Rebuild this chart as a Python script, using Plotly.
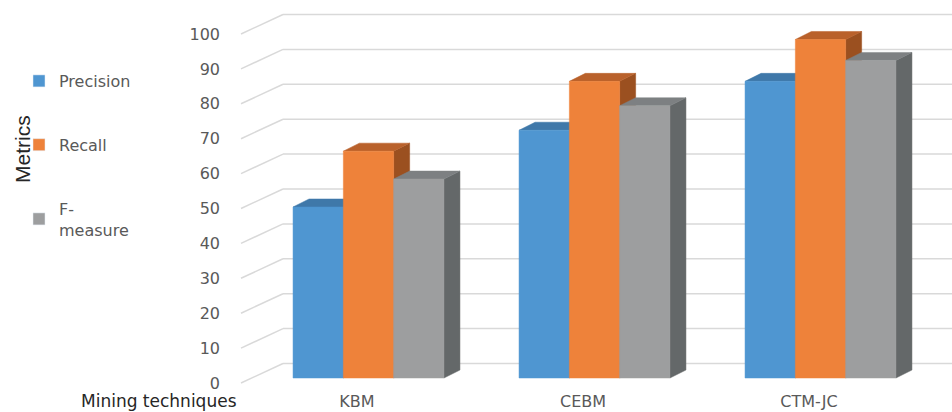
import plotly.graph_objects as go

# ---- data ----
categories = ["KBM", "CEBM", "CTM-JC"]
series_names = ["Precision", "Recall", "F-<br>measure"]
precision = [49, 71, 85]
recall = [65, 85, 97]
f_measure = [57, 78, 91]
y_ticks = [0, 10, 20, 30, 40, 50, 60, 70, 80, 90, 100]

front_colors = ["#4F96D1", "#EE823A", "#9D9E9F"]
top_colors = ["#3F78A9", "#B9612B", "#7D8082"]
side_colors = ["#3A6F9C", "#9B5020", "#646869"]

# ---- geometry (pixel-based layout constants) ----
W, H = 952, 412
Y0_PX = 383.0          # pixel of value 0 on the front plane
PX_PER_UNIT = 3.49
PLOT_BOTTOM_PX = 390
y_lo = (Y0_PX - PLOT_BOTTOM_PX) / PX_PER_UNIT
y_hi = Y0_PX / PX_PER_UNIT

GRID_X0, GRID_X1 = 241, 283
GRID_DY = 19.5 / PX_PER_UNIT
BAR_BASE = 5.0 / PX_PER_UNIT
BAR_DX = 16
BAR_DY = 8.0 / PX_PER_UNIT
CAT0, CAT_STEP = 368.5, 226
BAR_W = 50.3
LABEL_SHIFT = 11.5

fig = go.Figure()

# legend entries (square icons)
for name, col in zip(series_names, front_colors):
    fig.add_trace(go.Bar(x=[None], y=[None], name=name, marker_color=col,
                         legendgroup=name, hoverinfo="skip"))

all_vals = [precision, recall, f_measure]
for j, vals in enumerate(all_vals):
    faces = {"side": ([], []), "top": ([], []), "front": ([], [])}
    for i, v in enumerate(vals):
        xl = CAT0 + i * CAT_STEP + (j - 1) * BAR_W - BAR_W / 2
        xr = xl + BAR_W
        b = BAR_BASE
        t = BAR_BASE + v
        sx, sy = faces["side"]
        sx += [xr, xr, xr + BAR_DX, xr + BAR_DX, xr, None]
        sy += [b, t, t + BAR_DY, b + BAR_DY, b, None]
        tx, ty = faces["top"]
        tx += [xl, xr, xr + BAR_DX, xl + BAR_DX, xl, None]
        ty += [t, t, t + BAR_DY, t + BAR_DY, t, None]
        fx, fy = faces["front"]
        fx += [xl, xr, xr, xl, xl, None]
        fy += [b, b, t, t, b, None]
    for face, col in (("side", side_colors[j]), ("top", top_colors[j]), ("front", front_colors[j])):
        xs, ys = faces[face]
        fig.add_trace(go.Scatter(x=xs, y=ys, mode="lines", fill="toself",
                                 fillcolor=col, line=dict(width=0.5, color=col),
                                 showlegend=False, hoverinfo="skip"))

# pseudo-3D gridlines
shapes = []
for v in y_ticks:
    shapes.append(dict(type="line", xref="x", yref="y", x0=GRID_X0, y0=v,
                       x1=GRID_X1, y1=v + GRID_DY, layer="below",
                       line=dict(color="#D9D9D9", width=1.5)))
    shapes.append(dict(type="line", xref="x", yref="y", x0=GRID_X1, y0=v + GRID_DY,
                       x1=W, y1=v + GRID_DY, layer="below",
                       line=dict(color="#D9D9D9", width=1.5)))

fig.update_layout(
    width=W, height=H,
    margin=dict(l=0, r=0, t=0, b=H - PLOT_BOTTOM_PX),
    paper_bgcolor="white", plot_bgcolor="white",
    shapes=shapes,
    showlegend=True,
    legend=dict(x=19 / W, xanchor="left", y=1 - 64 / PLOT_BOTTOM_PX, yanchor="top",
                font=dict(family="DejaVu Sans", size=16, color="#595959"),
                tracegroupgap=40, bgcolor="rgba(0,0,0,0)", itemwidth=30),
    xaxis=dict(range=[0, W], showgrid=False, zeroline=False, showline=False,
               tickvals=[CAT0 + i * CAT_STEP - LABEL_SHIFT for i in range(len(categories))],
               ticktext=categories, ticks="",
               tickfont=dict(family="DejaVu Sans", size=16, color="#595959")),
    yaxis=dict(range=[y_lo, y_hi], showgrid=False, zeroline=False, showline=False,
               anchor="free", position=220 / W, tickvals=y_ticks, ticks="",
               tickfont=dict(family="DejaVu Sans", size=16, color="#595959")),
    annotations=[
        dict(text="Metrics", x=22 / W, xref="paper", xanchor="center",
             y=1 - 149 / PLOT_BOTTOM_PX, yref="paper", yanchor="middle",
             textangle=-90, showarrow=False,
             font=dict(family="Liberation Sans Narrow, Liberation Sans", size=21, color="#262626")),
        dict(text="Mining techniques", x=80 / W, xref="paper", xanchor="left",
             y=-(H - PLOT_BOTTOM_PX) / PLOT_BOTTOM_PX, yref="paper", yanchor="bottom",
             showarrow=False, borderpad=0,
             font=dict(family="DejaVu Sans", size=17, color="#262626")),
    ],
)

fig.write_html("out.html")
